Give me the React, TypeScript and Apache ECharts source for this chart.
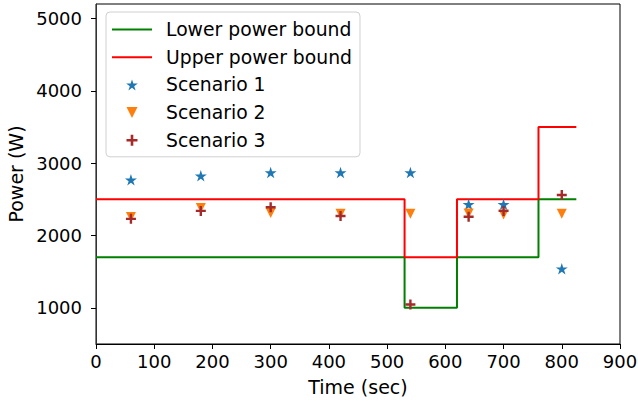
import React, { useEffect, useRef } from "react";
import * as echarts from "echarts";

const lowerBound: [number, number][] = [
  [0, 1700], [530, 1000], [620, 1700], [760, 2500], [825, 2500],
];
const upperBound: [number, number][] = [
  [0, 2500], [530, 1700], [620, 2500], [760, 3500], [825, 3500],
];
const times = [60, 180, 300, 420, 540, 640, 700, 800];
const scenario1 = [2770, 2825, 2870, 2870, 2870, 2430, 2430, 1540];
const scenario2 = [2255, 2380, 2310, 2300, 2300, 2305, 2290, 2300];
const scenario3 = [2230, 2340, 2390, 2270, 1045, 2260, 2340, 2560];
const yTicks = [1000, 2000, 3000, 4000, 5000];

const STAR =
  "path://M100,0L122.45,69.1L195.1,69.1L136.3,111.8L158.8,180.9L100,138.2L41.2,180.9L63.7,111.8L4.9,69.1L77.55,69.1Z";
const TRI_DOWN = "path://M0,0L10,0L5,10Z";
const PLUS = "path://M3.8,0H6.2V3.8H10V6.2H6.2V10H3.8V6.2H0V3.8H3.8Z";
const LEGEND_LINE = "path://M0,0H40V2H0Z";

const FONT = "DejaVu Sans";

export default function App() {
  const ref = useRef<HTMLDivElement>(null);
  useEffect(() => {
    if (!ref.current) return;
    const chart = echarts.init(ref.current, undefined, { renderer: "svg" });
    const pts = (vals: number[]) => times.map((t, i) => [t, vals[i]]);
    chart.setOption({
      animation: false,
      backgroundColor: "#fff",
      textStyle: { fontFamily: FONT },
      grid: {
        left: 96, right: 18, top: 4, bottom: 57,
        containLabel: false,
        outerBoundsMode: "none",
        show: true, borderColor: "#000", borderWidth: 1, backgroundColor: "transparent",
      },
      legend: {
        orient: "vertical",
        left: 106,
        top: 12,
        padding: [8, 8, 7, 6],
        itemWidth: 40,
        itemHeight: 11,
        itemGap: 8.7,
        borderColor: "#d0d0d0",
        borderWidth: 1,
        borderRadius: 4,
        backgroundColor: "rgba(255,255,255,0.8)",
        textStyle: { fontFamily: FONT, fontSize: 18.8, color: "#000", lineHeight: 18, padding: [0, 0, 0, 9] },
        data: [
          { name: "Lower power bound", icon: LEGEND_LINE, itemStyle: { color: "#008000" } },
          { name: "Upper power bound", icon: LEGEND_LINE, itemStyle: { color: "#ff0000" } },
          "Scenario 1",
          "Scenario 2",
          "Scenario 3",
        ],
      },
      xAxis: {
        type: "value",
        min: 0,
        max: 900,
        interval: 100,
        name: "Time (sec)",
        nameLocation: "middle",
        nameGap: 33,
        nameTextStyle: { fontFamily: FONT, fontSize: 19, color: "#000" },
        axisLine: { show: true, onZero: false, lineStyle: { color: "#000", width: 1 } },
        axisTick: { show: true, length: 5, lineStyle: { color: "#000" } },
        axisLabel: { fontFamily: FONT, fontSize: 18, color: "#000", margin: 8, formatter: (v: number) => String(v) },
        splitLine: { show: false },
      },
      yAxis: {
        type: "value",
        min: 500,
        max: 5200,
        name: "Power (W)",
        nameLocation: "middle",
        nameGap: 66,
        nameTextStyle: { fontFamily: FONT, fontSize: 19, color: "#000" },
        axisLine: { show: true, onZero: false, lineStyle: { color: "#333", width: 1 } },
        axisTick: { show: true, length: 5, customValues: yTicks, lineStyle: { color: "#000" } },
        axisLabel: {
          fontFamily: FONT, fontSize: 18, color: "#000", margin: 14,
          customValues: yTicks, formatter: (v: number) => String(v),
        },
        splitLine: { show: false },
      },
      series: [
        {
          name: "Lower power bound",
          type: "line",
          step: "end",
          data: lowerBound,
          symbol: "none",
          showSymbol: false,
          lineStyle: { color: "#008000", width: 2 },
          itemStyle: { color: "#008000" },
          z: 2,
        },
        {
          name: "Upper power bound",
          type: "line",
          step: "end",
          data: upperBound,
          symbol: "none",
          showSymbol: false,
          lineStyle: { color: "#ff0000", width: 2 },
          itemStyle: { color: "#ff0000" },
          z: 3,
        },
        {
          name: "Scenario 1",
          type: "scatter",
          data: pts(scenario1),
          symbol: STAR,
          symbolSize: 12,
          symbolKeepAspect: true,
          itemStyle: { color: "#1f77b4", opacity: 1 },
          z: 4,
        },
        {
          name: "Scenario 2",
          type: "scatter",
          data: pts(scenario2),
          symbol: TRI_DOWN,
          symbolSize: 10,
          itemStyle: { color: "#ff7f0e", opacity: 1 },
          z: 5,
        },
        {
          name: "Scenario 3",
          type: "scatter",
          data: pts(scenario3),
          symbol: PLUS,
          symbolSize: 10,
          itemStyle: { color: "#a52a2a", opacity: 1 },
          z: 6,
        },
      ],
    });
    return () => chart.dispose();
  }, []);
  return (
    <div
      ref={ref}
      style={{ position: "fixed", left: 0, top: 0, width: 638, height: 401 }}
    />
  );
}
